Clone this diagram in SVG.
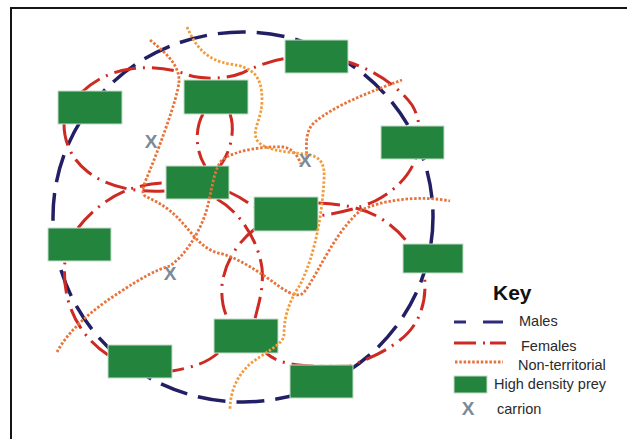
<svg xmlns="http://www.w3.org/2000/svg" width="627" height="439" viewBox="0 0 627 439">
<style>
.male{fill:none;stroke:#231f64;stroke-width:3.5;stroke-dasharray:28 11}
.fem{fill:none;stroke:#cc2a22;stroke-width:3;stroke-dasharray:22 7 2 7}
.nt{fill:none;stroke:#e8733a;stroke-width:2.8;stroke-dasharray:2.5 1.8}
.nt2{fill:none;stroke:#f39c3c;stroke-width:2.8;stroke-dasharray:2.5 1.8}
.prey{fill:#23843d;stroke:#c5dccb;stroke-width:1}
.x{font-family:"Liberation Sans",Arial,sans-serif;font-size:19px;font-weight:bold;fill:#7b8a99;text-anchor:middle}
.lbl{font-family:"Liberation Sans",Arial,sans-serif;font-size:14.5px;fill:#2a2a2a}
</style>
<rect width="627" height="439" fill="#fff"/>
<path d="M11,439 V8 H627" fill="none" stroke="#151515" stroke-width="2"/>
<g id="connectors">
  <ellipse class="male" cx="243" cy="217" rx="190" ry="185"/>
  <path class="fem" d="M82,92 C95,80 110,72 130,69 C150,66 170,68 188,75 C200,79 225,80 242,73 C255,67 270,60 290,58 L348,62 C375,70 400,88 412,105 C420,118 421,135 418,150 C414,170 400,188 375,201 C360,208 340,213 318,216"/>
  <path class="fem" d="M64,124 C64,140 70,158 88,172 C105,185 130,193 166,191"/>
  <path class="fem" d="M78,228 C90,212 110,196 130,189 C145,185 155,183 166,183"/>
  <path class="fem" d="M229,192 C238,196 246,201 254,207"/>
  <path class="fem" d="M203,114 C195,128 195,150 205,166"/>
  <path class="fem" d="M230,114 C235,128 232,150 220,166"/>
  <path class="fem" d="M217,199 C240,212 258,240 262,268 C264,290 258,305 255,319"/>
  <path class="fem" d="M256,228 C240,240 225,260 222,285 C221,300 224,312 228,319"/>
  <path class="fem" d="M318,203 C340,204 362,207 380,218 C400,230 415,248 424,273 C428,300 420,325 400,340 C385,352 370,358 350,366 C330,367 300,366 287,363 C278,361 272,358 266,353"/>
  <path class="fem" d="M218,353 C208,362 195,367 172,371"/>
  <path class="fem" d="M108,355 C90,343 75,325 68,300 C64,285 64,272 65,261"/>
</g>
<g id="prey1"><rect class="prey" x="58" y="91" width="64" height="33"/></g>
<g id="prey2"><rect class="prey" x="184" y="80" width="64" height="34"/></g>
<g id="prey3"><rect class="prey" x="285" y="40" width="63" height="33"/></g>
<g id="prey4"><rect class="prey" x="381" y="126" width="63" height="33"/></g>
<g id="prey5"><rect class="prey" x="166" y="166" width="63" height="33"/></g>
<g id="prey6"><rect class="prey" x="254" y="197" width="64" height="34"/></g>
<g id="prey7"><rect class="prey" x="48" y="228" width="63" height="33"/></g>
<g id="prey8"><rect class="prey" x="403" y="244" width="60" height="29"/></g>
<g id="prey9"><rect class="prey" x="214" y="319" width="64" height="34"/></g>
<g id="prey10"><rect class="prey" x="108" y="345" width="64" height="33"/></g>
<g id="prey11"><rect class="prey" x="290" y="365" width="63" height="33"/></g>
<g id="nonterritorial">
  <path class="nt" d="M150,40 C165,52 180,65 179,82 C177,100 160,145 150,170 C145,182 140,192 145,196 C155,201 165,205 178,218 C190,230 200,248 218,253 C235,256 260,272 280,287 C292,295 300,298 305,291 C320,270 335,232 360,211 C380,200 420,195 450,201"/>
  <path class="nt" d="M57,352 C70,328 95,308 120,292 C140,279 155,270 170,266 C185,255 198,235 205,215 C212,195 212,172 222,160 C235,150 265,146 283,147 C292,148 298,156 301,164"/>
  <path class="nt" d="M307,158 C306,145 305,130 315,122 C335,105 370,92 402,80"/>
  <path class="nt2" d="M187,27 C195,45 205,60 230,64 C252,67 262,75 262,100 C262,118 253,128 256,138 C260,150 285,152 305,154 C322,156 325,165 324,180 C322,215 315,255 300,285 C290,300 284,315 284,335 C283,345 265,352 250,364 C238,375 230,390 230,410"/>
</g>
<g id="carrion1"><text class="x" x="151" y="148">X</text></g>
<g id="carrion2"><text class="x" x="305" y="167">X</text></g>
<g id="carrion3"><text class="x" x="170" y="280">X</text></g>
<g id="key">
  <text x="493" y="300" font-family="Liberation Sans,Arial,sans-serif" font-size="21" font-weight="bold" fill="#111">Key</text>
  <line x1="454" y1="322" x2="503" y2="322" stroke="#2e2b7a" stroke-width="3" stroke-dasharray="12 17 20"/>
  <text class="lbl" x="519" y="326">Males</text>
  <line x1="454" y1="343" x2="506" y2="343" stroke="#cc2a22" stroke-width="3" stroke-dasharray="22 7 2 5 16"/>
  <text class="lbl" x="521" y="351">Females</text>
  <line x1="455" y1="362" x2="503" y2="362" class="nt"/>
  <text class="lbl" x="518" y="370">Non-territorial</text>
  <rect class="prey" x="454" y="376" width="33" height="17"/>
  <text class="lbl" x="494" y="389">High density prey</text>
  <text class="x" x="468" y="415">X</text>
  <text class="lbl" x="497" y="414">carrion</text>
</g>
</svg>
